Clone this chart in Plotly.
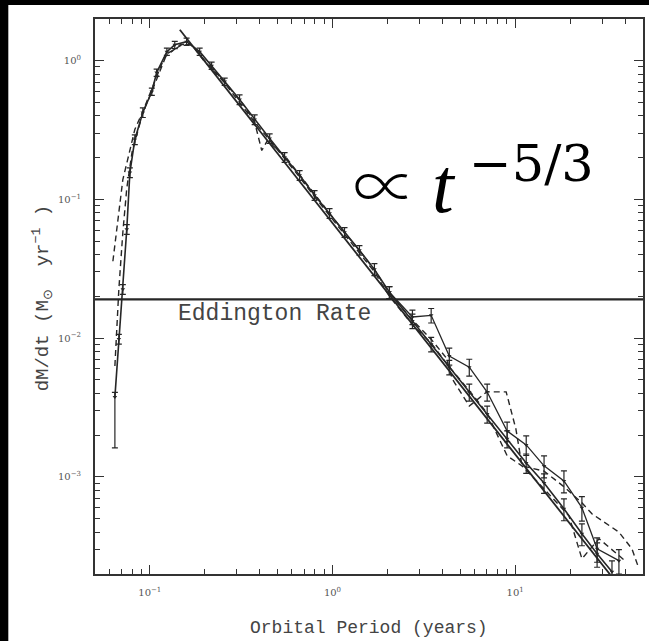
import plotly.graph_objects as go

# Accretion rate onto the black hole versus orbital period of the returning debris
# Main simulation (solid, with error bars)
sim_a_period = [0.0644, 0.0677, 0.0712, 0.0748, 0.0778, 0.0828, 0.0916, 0.1026, 0.109, 0.124,
                0.137, 0.159, 0.1875, 0.218, 0.257, 0.31, 0.375, 0.453, 0.547, 0.661,
                0.798, 0.964, 1.164, 1.405, 1.697, 2.05, 2.74, 3.47, 4.36, 5.61,
                7.03, 9.04, 11.5, 14.4, 18.5, 23.2, 28.1, 33.9]
sim_a_rate = [0.00376, 0.00984, 0.0225, 0.0608, 0.156, 0.270, 0.423, 0.598, 0.820, 1.16,
              1.30, 1.37, 1.16, 0.92, 0.706, 0.524, 0.376, 0.275, 0.201, 0.149,
              0.107, 0.0793, 0.0579, 0.043, 0.0313, 0.0214, 0.0133, 0.00905, 0.00618, 0.00409,
              0.00284, 0.00188, 0.00126, 0.000905, 0.000589, 0.000389, 0.000279, 0.000207]
sim_a_err_up = [0.08, 0.08, 0.08, 0.08, 0.08, 0.08, 0.08, 0.06, 0.06, 0.06,
                0.06, 0.06, 0.06, 0.06, 0.06, 0.08, 0.08, 0.08, 0.08, 0.08,
                0.08, 0.08, 0.08, 0.08, 0.1, 0.1, 0.12, 0.12, 0.12, 0.14,
                0.14, 0.14, 0.16, 0.16, 0.18, 0.18, 0.2, 0.2]
sim_a_err_down = [0.57] + sim_a_err_up[1:]

# Second run, late-time tail (solid, with error bars)
sim_b_period = [2.05, 2.74, 3.47, 4.36, 5.61, 7.03, 9.04, 11.5, 14.4, 18.5, 23.2, 28.1, 37.0]
sim_b_rate = [0.0214, 0.0142, 0.0146, 0.00743, 0.00618, 0.00409, 0.00214, 0.0017, 0.00120,
              0.000935, 0.00060, 0.000303, 0.000249]
sim_b_err = [0.1, 0.12, 0.12, 0.14, 0.14, 0.14, 0.16, 0.16, 0.18, 0.18, 0.2, 0.2, 0.2]

# Comparison runs (dashed)
run_c_period = [0.0628, 0.0667, 0.0712, 0.0757, 0.0828, 0.0916, 0.1026, 0.12, 0.146, 0.166,
                0.2, 0.257, 0.33, 0.375, 0.41, 0.44, 0.55, 0.66, 0.8, 0.96,
                1.16, 1.4, 1.7, 2.05, 2.74, 3.47, 4.2, 4.53, 5.61, 7.0,
                8.93, 10.1, 10.9, 14.4, 18.5, 23.2, 26.4, 37.0, 43.6, 47.6]
run_c_rate = [0.0358, 0.0718, 0.139, 0.194, 0.319, 0.43, 0.618, 1.05, 1.30, 1.33,
              1.0, 0.70, 0.47, 0.36, 0.225, 0.265, 0.205, 0.15, 0.11, 0.08,
              0.058, 0.043, 0.031, 0.021, 0.0135, 0.0098, 0.0072, 0.00507, 0.00324, 0.0041,
              0.0041, 0.00221, 0.0012, 0.0011, 0.00085, 0.00065, 0.00054, 0.00040, 0.000303, 0.000218]

run_d_period = [0.0644, 0.0677, 0.0712, 0.0748, 0.08, 0.0916, 0.1026, 0.124, 0.15, 0.17,
                0.2, 0.25, 0.31, 0.375, 0.45, 0.55, 0.66, 0.8, 0.96, 1.16,
                1.4, 1.7, 2.05, 2.74, 3.47, 4.36, 5.6, 7.0, 9.04, 10.9,
                14.4, 19.7, 23.2, 28.8, 40.5]
run_d_rate = [0.0063, 0.0225, 0.058, 0.12, 0.22, 0.42, 0.6, 1.12, 1.3, 1.3,
              0.98, 0.72, 0.5, 0.36, 0.27, 0.195, 0.145, 0.104, 0.077, 0.056,
              0.041, 0.030, 0.020, 0.0125, 0.0092, 0.0062, 0.0042, 0.0029, 0.00142, 0.0012,
              0.00082, 0.000524, 0.000257, 0.000358, 0.000245]

# t^(-5/3) power law, end points
fit_period = [0.146, 36.0]
fit_rate = [1.67, 0.000172]

eddington_rate = 0.019

x_tick_vals = [0.1, 1, 10]
x_tick_text = ['10<sup>−1</sup>', '10<sup>0</sup>', '10<sup>1</sup>']
y_tick_vals = [0.001, 0.01, 0.1, 1]
y_tick_text = ['10<sup>−3</sup>', '10<sup>−2</sup>', '10<sup>−1</sup>', '10<sup>0</sup>']

x_minor = [m * 10.0 ** e for e in (-2, -1, 0, 1) for m in range(2, 10)]
y_minor = [m * 10.0 ** e for e in (-4, -3, -2, -1, 0) for m in range(2, 10)]

ink = '#262626'

fig = go.Figure()

fig.add_trace(go.Scatter(x=run_d_period, y=run_d_rate, mode='lines',
                         line=dict(color=ink, width=1.4, dash='6px,4px')))
fig.add_trace(go.Scatter(x=run_c_period, y=run_c_rate, mode='lines',
                         line=dict(color=ink, width=1.4, dash='6px,4px')))
fig.add_trace(go.Scatter(x=fit_period, y=fit_rate, mode='lines',
                         line=dict(color=ink, width=1.8)))
fig.add_trace(go.Scatter(
    x=sim_b_period, y=sim_b_rate, mode='lines+markers',
    line=dict(color=ink, width=1.3),
    marker=dict(symbol='triangle-down', size=4, color=ink),
    error_y=dict(type='data', symmetric=False,
                 array=[r * e for r, e in zip(sim_b_rate, sim_b_err)],
                 arrayminus=[r * e for r, e in zip(sim_b_rate, sim_b_err)],
                 color=ink, thickness=1.2, width=3)))
fig.add_trace(go.Scatter(
    x=sim_a_period, y=sim_a_rate, mode='lines+markers',
    line=dict(color=ink, width=1.6),
    marker=dict(symbol='triangle-down', size=4, color=ink),
    error_y=dict(type='data', symmetric=False,
                 array=[r * e for r, e in zip(sim_a_rate, sim_a_err_up)],
                 arrayminus=[r * e for r, e in zip(sim_a_rate, sim_a_err_down)],
                 color=ink, thickness=1.2, width=3)))
fig.add_trace(go.Scatter(x=[0.03, 80], y=[eddington_rate, eddington_rate], mode='lines',
                         line=dict(color=ink, width=2.2), cliponaxis=True))

axis_common = dict(
    type='log', showgrid=False, zeroline=False,
    showline=True, linecolor='#333333', linewidth=2, mirror='ticks',
    ticks='inside', ticklen=9, tickwidth=1.4, tickcolor='#333333',
    tickfont=dict(family='DejaVu Serif', size=10, color='#555555'),
)

label_font = dict(family='Liberation Mono', color='#444444')

fig.update_layout(
    width=649, height=641,
    margin=dict(l=95, r=4, t=19, b=67),
    paper_bgcolor='black', plot_bgcolor='white',
    showlegend=False,
    xaxis=dict(axis_common, range=[-1.30, 1.70], tickmode='array',
               tickvals=x_tick_vals, ticktext=x_tick_text, ticklabelstandoff=8,
               minor=dict(tickmode='array', tickvals=x_minor, ticks='inside',
                          ticklen=5, tickwidth=1.2, tickcolor='#333333', showgrid=False)),
    yaxis=dict(axis_common, range=[-3.70, 0.30], tickmode='array',
               tickvals=y_tick_vals, ticktext=y_tick_text, ticklabelstandoff=10,
               minor=dict(tickmode='array', tickvals=y_minor, ticks='inside',
                          ticklen=5, tickwidth=1.2, tickcolor='#333333', showgrid=False)),
    shapes=[dict(type='rect', xref='paper', yref='paper', layer='below',
                 x0=(8 - 95) / 550, x1=1.05, y0=-0.2, y1=(574 - 5) / 555,
                 fillcolor='white', line=dict(width=0))],
    annotations=[
        dict(text='Eddington Rate', x=-0.854, y=-1.7212, xref='x', yref='y',
             xanchor='left', yanchor='top', yshift=0, showarrow=False,
             font=dict(label_font, size=23)),
        # power-law label, set piece by piece
        dict(text='∝', x=(386 - 95) / 550, y=(574 - 182) / 555, xref='paper', yref='paper',
             xanchor='center', yanchor='middle', showarrow=False,
             font=dict(family='Noto Sans CJK JP', size=64, weight=300, color='black')),
        dict(text='<i>t</i>', x=(445 - 95) / 550, y=(574 - 185) / 555, xref='paper', yref='paper',
             xanchor='center', yanchor='middle', showarrow=False,
             font=dict(family='Liberation Serif', size=78, color='black')),
        dict(text='−5/3', x=(533 - 95) / 550, y=(574 - 163) / 555, xref='paper', yref='paper',
             xanchor='center', yanchor='middle', showarrow=False,
             font=dict(family='DejaVu Serif', size=51, color='black')),
        dict(text='Orbital Period (years)', x=0.5, y=-0.0973, xref='paper', yref='paper',
             xanchor='center', yanchor='middle', showarrow=False,
             font=dict(label_font, size=18)),
        dict(text='dM/dt (M<sub>⊙</sub>\u00a0 yr<sup>−1</sup>\u00a0)', x=-0.0964, y=0.497,
             xref='paper', yref='paper', textangle=-90,
             xanchor='center', yanchor='middle', showarrow=False,
             font=dict(label_font, size=19)),
    ],
)

fig.write_html('out.html')
